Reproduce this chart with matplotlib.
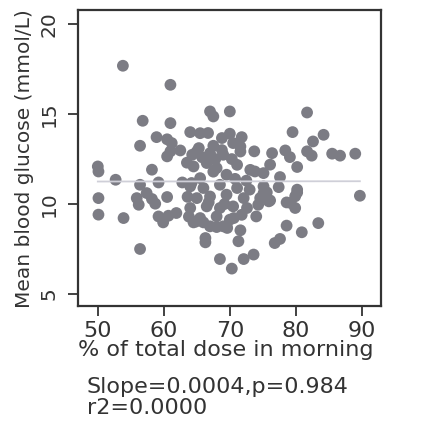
import numpy as np
import matplotlib
matplotlib.use("Agg")
import matplotlib.pyplot as plt

# % of total dose in morning
dose_pct = [
    53.8, 61.0, 56.8, 61.0, 67.0, 67.5, 70.0, 81.7,
    56.4, 58.9, 60.5, 61.2, 61.0, 62.5, 60.5,
    64.0, 65.5, 66.7, 68.8, 70.0, 71.8, 71.6, 67.5, 65.3, 64.3,
    73.7, 76.4, 78.4, 79.1, 79.5, 82.6, 84.2, 81.7, 82.4, 85.5, 86.7, 89.0,
    80.2, 76.1, 73.8, 75.1, 77.6, 77.4, 80.2, 79.9, 78.6, 79.9, 75.6, 74.6,
    76.1, 74.3, 74.0, 78.6, 80.9, 83.4, 77.6, 76.8, 73.6, 72.1, 70.3, 68.5,
    71.6, 71.3, 69.6, 68.0, 70.6, 66.3, 64.5, 66.0, 89.7,
    56.4, 53.9, 50.1, 50.1, 50.0, 50.1, 52.7, 58.2, 59.2, 56.4, 57.4, 55.9,
    56.2, 58.2, 58.7, 60.5, 59.2, 59.9, 60.7, 61.9, 64.2, 64.9,
    80.2, 79.2, 75.1, 75.9, 69.5,
    70.5, 65.0, 67.0, 69.0, 71.6, 64.5, 66.5, 68.0, 71.1, 73.1,
    65.5, 69.5, 64.0, 66.0, 68.5, 71.1, 75.1, 65.0, 67.0, 69.5, 72.1,
    64.0, 66.5, 68.5, 70.5, 72.6, 65.5, 68.0, 70.0, 67.0, 69.0, 66.3,
    63.5, 62.8, 67.5, 70.3, 72.5, 66.8, 69.2, 71.8, 63.6, 67.8, 70.8,
    65.8, 68.8, 73.0, 63.8,
]
# Mean blood glucose (mmol/L)
glucose = [
    17.69, 16.63, 14.63, 14.50, 15.15, 14.87, 15.15, 15.09,
    13.24, 13.72, 13.60, 13.39, 12.93, 12.98, 12.65,
    14.00, 13.94, 13.95, 13.67, 13.91, 13.72, 13.20, 13.24, 13.11, 12.74,
    12.93, 12.83, 12.98, 12.61, 14.00, 13.48, 13.85, 12.93, 12.69, 12.80, 12.69, 12.80,
    12.06, 12.19, 11.81, 11.72, 11.50, 10.94, 10.80, 10.43, 10.09, 9.78, 10.65, 10.33,
    10.20, 9.96, 9.31, 8.80, 8.43, 8.94, 8.06, 7.83, 7.19, 6.94, 6.41, 6.94,
    8.54, 7.93, 8.67, 8.72, 9.22, 7.87, 8.98, 8.98, 10.46,
    7.50, 9.22, 9.41, 10.33, 12.09, 11.81, 11.35, 11.91, 11.20, 11.07, 10.61, 10.33,
    9.96, 10.28, 10.02, 10.39, 9.31, 8.98, 9.35, 9.50, 11.17, 9.03,
    10.64, 10.06, 10.60, 10.15, 8.76,
    13.39, 12.92, 12.83, 12.74, 12.92, 12.09, 12.28, 12.00, 12.18, 11.90,
    11.44, 11.63, 10.98, 10.89, 11.07, 10.89, 10.98, 10.33, 10.42, 10.52, 10.33,
    9.78, 9.87, 9.78, 9.87, 9.78, 9.22, 9.31, 9.13, 8.76, 8.76, 8.11,
    12.30, 11.20, 11.80, 12.50, 11.30, 10.10, 10.00, 9.40, 10.40, 12.50, 11.40,
    12.60, 13.00, 10.80, 9.30,
]

slope = 0.0004
p_value = 0.984
r2 = 0.0000
fit_level = 11.26  # fitted glucose at x = 70
intercept = fit_level - slope * 70

x_ticks = [50, 60, 70, 80, 90]
y_ticks = [5, 10, 15, 20]

plt.rcParams['font.family'] = ['DejaVu Sans']

fig = plt.figure(figsize=(4.33, 4.30), dpi=100)
ax = fig.add_axes([78/433, 1-306/430, (381-78)/433, (306-10)/430])

x = np.array(dose_pct)
y = np.array(glucose)
ax.scatter(x, y, s=72, color='#7c7c84', edgecolors='none', zorder=2)

fx = np.array([x.min(), x.max()])
ax.plot(fx, intercept + slope * fx, color='#cfcfd8', lw=1.3, zorder=3)

ax.set_xlim(47.0, 92.9)
ax.set_ylim(4.33, 20.79)
ax.set_xticks(x_ticks)
ax.set_yticks(y_ticks)
ax.set_xticklabels([str(t) for t in x_ticks], fontsize=16, color='#333333')
ax.set_yticklabels([str(t) for t in y_ticks], fontsize=14.5, rotation=90,
                   va='center', color='#333333')
ax.tick_params(axis='x', length=7, width=1.3, pad=4, color='#333333')
ax.tick_params(axis='y', length=7, width=1.3, pad=7, color='#333333')
for sp in ax.spines.values():
    sp.set_linewidth(1.6)
    sp.set_color('#333333')

fig.text(25/433, 1-159/430, 'Mean blood glucose (mmol/L)', rotation=90,
         ha='center', va='center', fontsize=14.5, color='#333333')
fig.text(226/433, 1-350/430, '% of total dose in morning',
         ha='center', va='center', fontsize=16, color='#333333')
fig.text(87/433, 1-387/430, f'Slope={slope:.4f},p={p_value:.3f}',
         ha='left', va='center', fontsize=16, color='#333333')
fig.text(87/433, 1-408/430, f'r2={r2:.4f}',
         ha='left', va='center', fontsize=16, color='#333333')

fig.savefig('out.png', dpi=100)
